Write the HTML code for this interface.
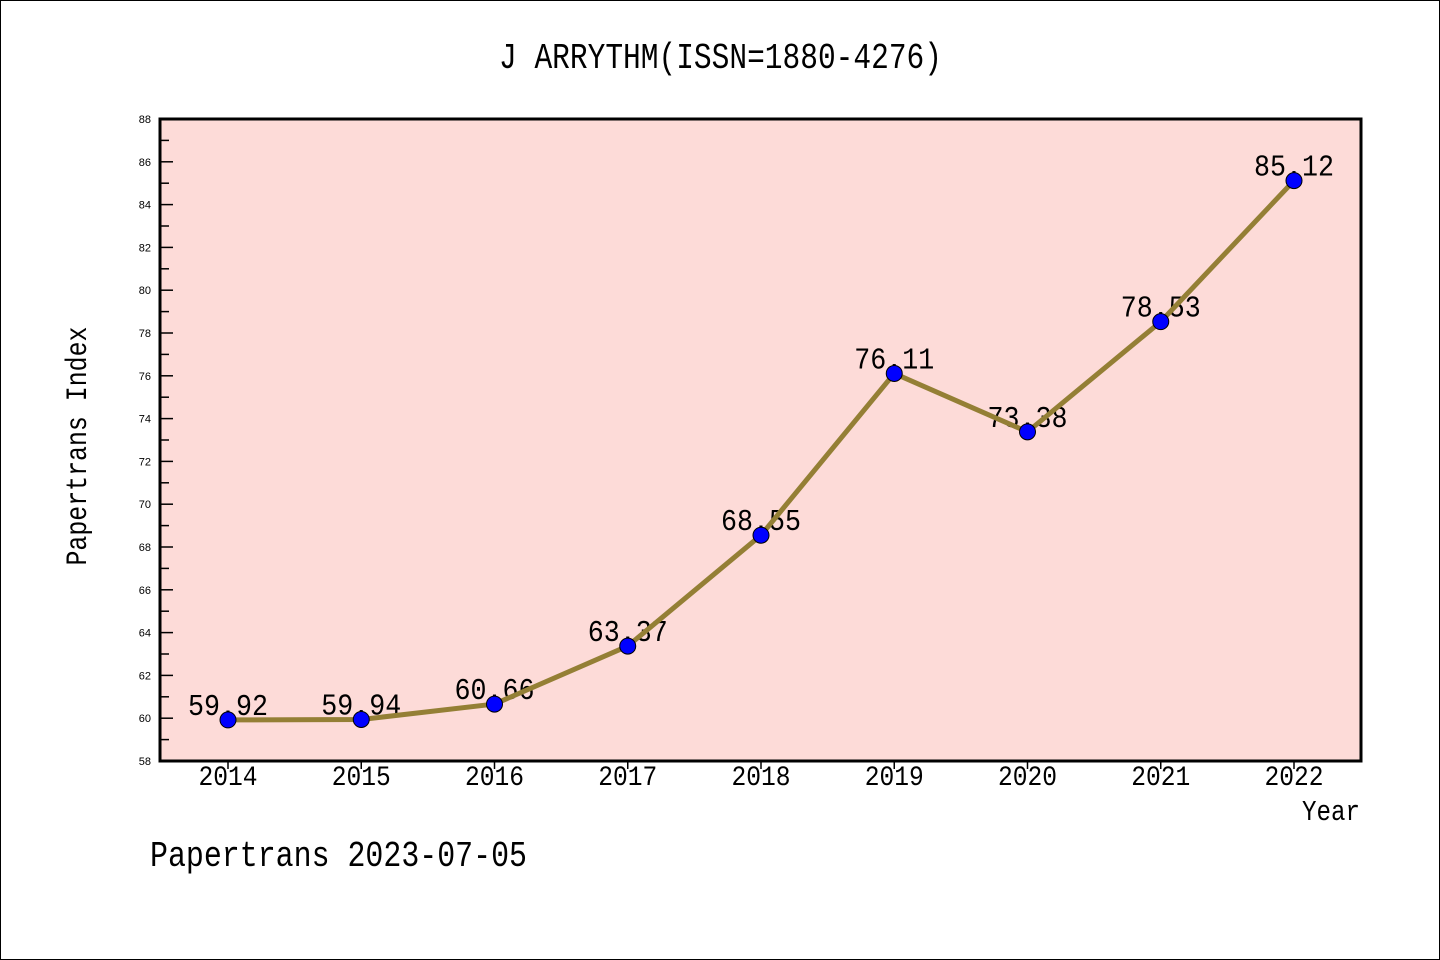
<!DOCTYPE html>
<html><head><meta charset="utf-8">
<style>
html,body{margin:0;padding:0;background:#fff;}
svg{display:block;}
text{font-family:"Liberation Mono","DejaVu Sans Mono",monospace;fill:#000;}
.yl{font-family:"Liberation Sans",sans-serif;}
</style></head>
<body>
<svg id="chart" width="1440" height="960">
<rect x="0.5" y="0.5" width="1439" height="959" fill="#fff" stroke="#000"/>
<text x="499" y="68" font-size="36" textLength="443" lengthAdjust="spacingAndGlyphs">J ARRYTHM(ISSN=1880-4276)</text>
<rect x="160" y="119" width="1201" height="642" fill="#fddbd8"/>
<g id="ticks"></g>
<g id="series"></g>
<rect x="160" y="119" width="1201" height="642" fill="none" stroke="#000" stroke-width="3"/>
<text x="86" y="446" font-size="30" text-anchor="middle" textLength="239" lengthAdjust="spacingAndGlyphs" transform="rotate(-90 86 446)">Papertrans Index</text>
<text x="1302" y="820" font-size="29" textLength="58" lengthAdjust="spacingAndGlyphs">Year</text>
<text x="150" y="866" font-size="36" textLength="377" lengthAdjust="spacingAndGlyphs">Papertrans 2023-07-05</text>
</svg>
<script>
const years = [2014,2015,2016,2017,2018,2019,2020,2021,2022];
const values = [59.92,59.94,60.66,63.37,68.55,76.11,73.38,78.53,85.12];
const labels = ["59.92","59.94","60.66","63.37","68.55","76.11","73.38","78.53","85.12"];
const yTicks = [58,60,62,64,66,68,70,72,74,76,78,80,82,84,86,88];

const NS="http://www.w3.org/2000/svg";
const L=160,R=1361,T=119,B=761,Y0=58,Y1=88;
const xS=i=>228+i*(1294-228)/(years.length-1);
const yS=v=>B-(v-Y0)/(Y1-Y0)*(B-T);
function mk(tag,attrs,parent){const e=document.createElementNS(NS,tag);for(const k in attrs)e.setAttribute(k,attrs[k]);parent.appendChild(e);return e;}
const tg=document.getElementById('ticks'), sg=document.getElementById('series');

yTicks.forEach((v,i)=>{
  const y=yS(v);
  const t=mk('line',{x1:L,x2:L+13,y1:y,y2:y,stroke:'#000','stroke-width':1.5},tg);
  
  
  const lb=mk('text',{x:151,y:y+4,'font-size':11,'text-anchor':'end','class':'yl'},tg);
  lb.textContent=v;
  
  
  if(i<yTicks.length-1){
    const ym=yS(v+1);
    const m=mk('line',{x1:L,x2:L+9,y1:ym,y2:ym,stroke:'#000','stroke-width':1.5},tg);
    
    
  }
});
years.forEach((yr,i)=>{
  const x=xS(i);
  const t=mk('line',{x1:x,x2:x,y1:B,y2:B+8,stroke:'#000','stroke-width':1.5},tg);
  
  
  const lb=mk('text',{x:x,y:785,'font-size':28,'text-anchor':'middle',textLength:59,lengthAdjust:'spacingAndGlyphs'},tg);
  lb.textContent=yr;
  
  
});
values.forEach((v,i)=>{
  const lb=mk('text',{x:xS(i),y:yS(v)-5,'font-size':31,'text-anchor':'middle',textLength:80,lengthAdjust:'spacingAndGlyphs'},sg);
  lb.textContent=labels[i];
  
  
});
const pts=values.map((v,i)=>xS(i)+','+yS(v)).join(' ');
const pl=mk('polyline',{points:pts,fill:'none',stroke:'#947f35','stroke-width':5,'stroke-linejoin':'round'},sg);


values.forEach((v,i)=>{
  const c=mk('circle',{cx:xS(i),cy:yS(v),r:8,fill:'#0000ff',stroke:'#000','stroke-width':1},sg);
  
  
});
</script>
</body></html>
